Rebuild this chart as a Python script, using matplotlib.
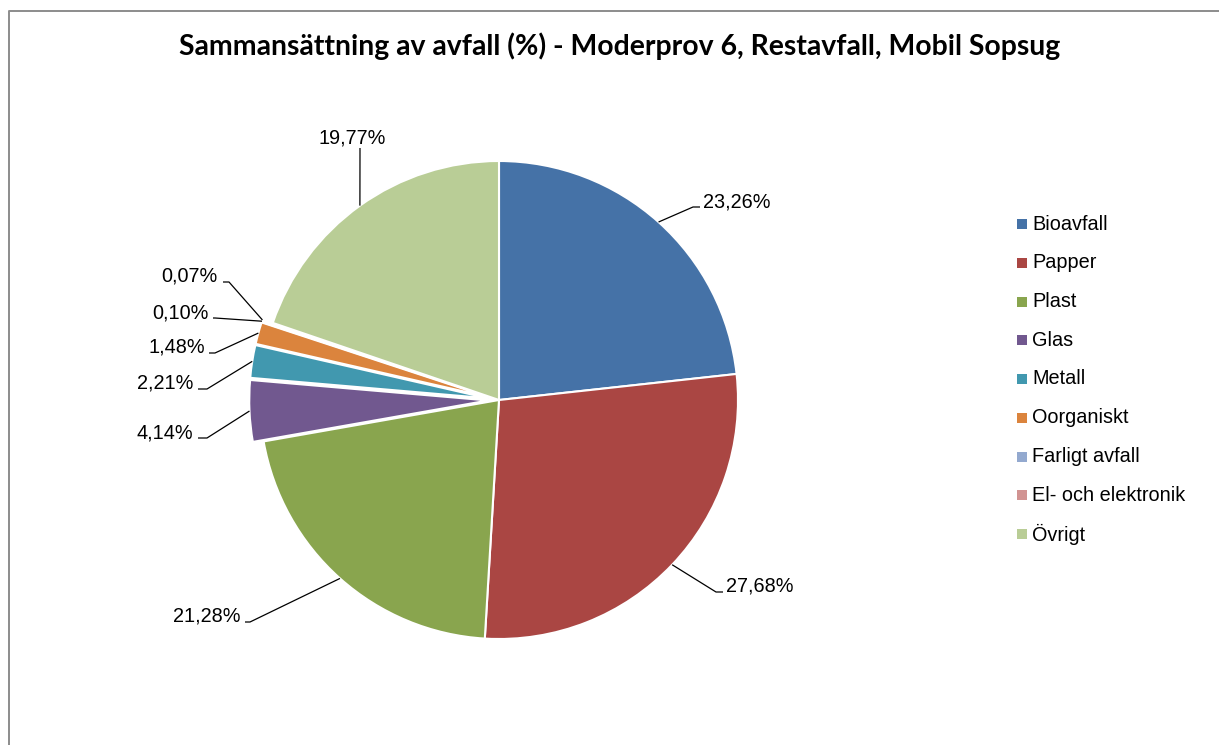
import numpy as np
import matplotlib
matplotlib.use("Agg")
import matplotlib.pyplot as plt

# ---- data ----
categories = ["Bioavfall", "Papper", "Plast", "Glas", "Metall", "Oorganiskt",
              "Farligt avfall", "El- och elektronik", "Övrigt"]
values = [23.26, 27.68, 21.28, 4.14, 2.21, 1.48, 0.10, 0.07, 19.77]
colors = ["#4572A7", "#AA4643", "#89A54E", "#71588F", "#4198AF", "#DB843D",
          "#93A9CF", "#D19392", "#B9CD96"]
title = "Sammansättning av avfall (%) - Moderprov 6, Restavfall, Mobil Sopsug"
explode_frac = [0, 0, 0, 0.045, 0.045, 0.045, 0.045, 0.045, 0]

# ---- layout (pixel coordinates, y from top) ----
W, H = 1219, 745
R = 239
def Y(p):
    return H - p

label_text = [(703, 202, "left"), (726, 586, "left"), (240, 616, "right"),
              (193, 433, "right"), (193, 383, "right"), (205, 347, "right"),
              (209, 313, "right"), (218, 276, "right"), (352, 138, "center")]
label_tail = [(700, 207), (723, 592), (245, 622), (198, 438), (198, 389),
              (209, 353), (213, 318), (223, 282), (360, 148)]
label_elbow = [(693, 207), (716, 592), (250, 622), (207, 438), (207, 389),
               (215, 353), (215, 318), (229, 282), (360, 148)]

fs = 14.3
font = "Liberation Sans"

fig = plt.figure(figsize=(W / 100, H / 100), dpi=100)
ax = fig.add_axes([0, 0, 1, 1])

wedges, _ = ax.pie(values, colors=colors, startangle=90, counterclock=False,
                   explode=[e * R for e in explode_frac], radius=R,
                   center=(499, Y(400)),
                   wedgeprops=dict(edgecolor="white", linewidth=1.5))

ax.set_xlim(0, W)
ax.set_ylim(0, H)
ax.set_aspect("equal")
ax.axis("off")

for i, w in enumerate(wedges):
    th = np.deg2rad((w.theta1 + w.theta2) / 2)
    cx, cy = w.center
    ex, ey = cx + w.r * np.cos(th), cy + w.r * np.sin(th)
    (bx, by), (tx, ty) = label_elbow[i], label_tail[i]
    ax.plot([ex, bx, tx], [ey, Y(by), Y(ty)], color="black", lw=0.9,
            solid_capstyle="butt")
    lx, ly, ha = label_text[i]
    txt = f"{values[i]:.2f}".replace(".", ",") + "%"
    ax.text(lx, Y(ly), txt, ha=ha, va="center", fontsize=fs, family=font,
            color="black")

# legend
leg_y0, leg_dy = 224, 38.75
for i, (c, name) in enumerate(zip(colors, categories)):
    yy = Y(leg_y0 + i * leg_dy)
    ax.scatter([1021.5], [yy], marker="s", s=58, color=c, linewidths=0)
    ax.text(1032, yy, name, ha="left", va="center", fontsize=fs, family=font,
            color="black")

# frame
ax.plot([8.5, 8.5, W], [0, Y(10.5), Y(10.5)], color="#8c8c8c", lw=1.4,
        clip_on=False)

# title, scaled to measured width
t = fig.text(620 / W, 1 - 46 / H, title, ha="center", va="center",
             fontsize=19, fontweight="bold", family="Lato", color="black")
fig.canvas.draw()
bb = t.get_window_extent()
t.set_fontsize(19 * 880 / bb.width)

fig.savefig("out.png", dpi=100)
